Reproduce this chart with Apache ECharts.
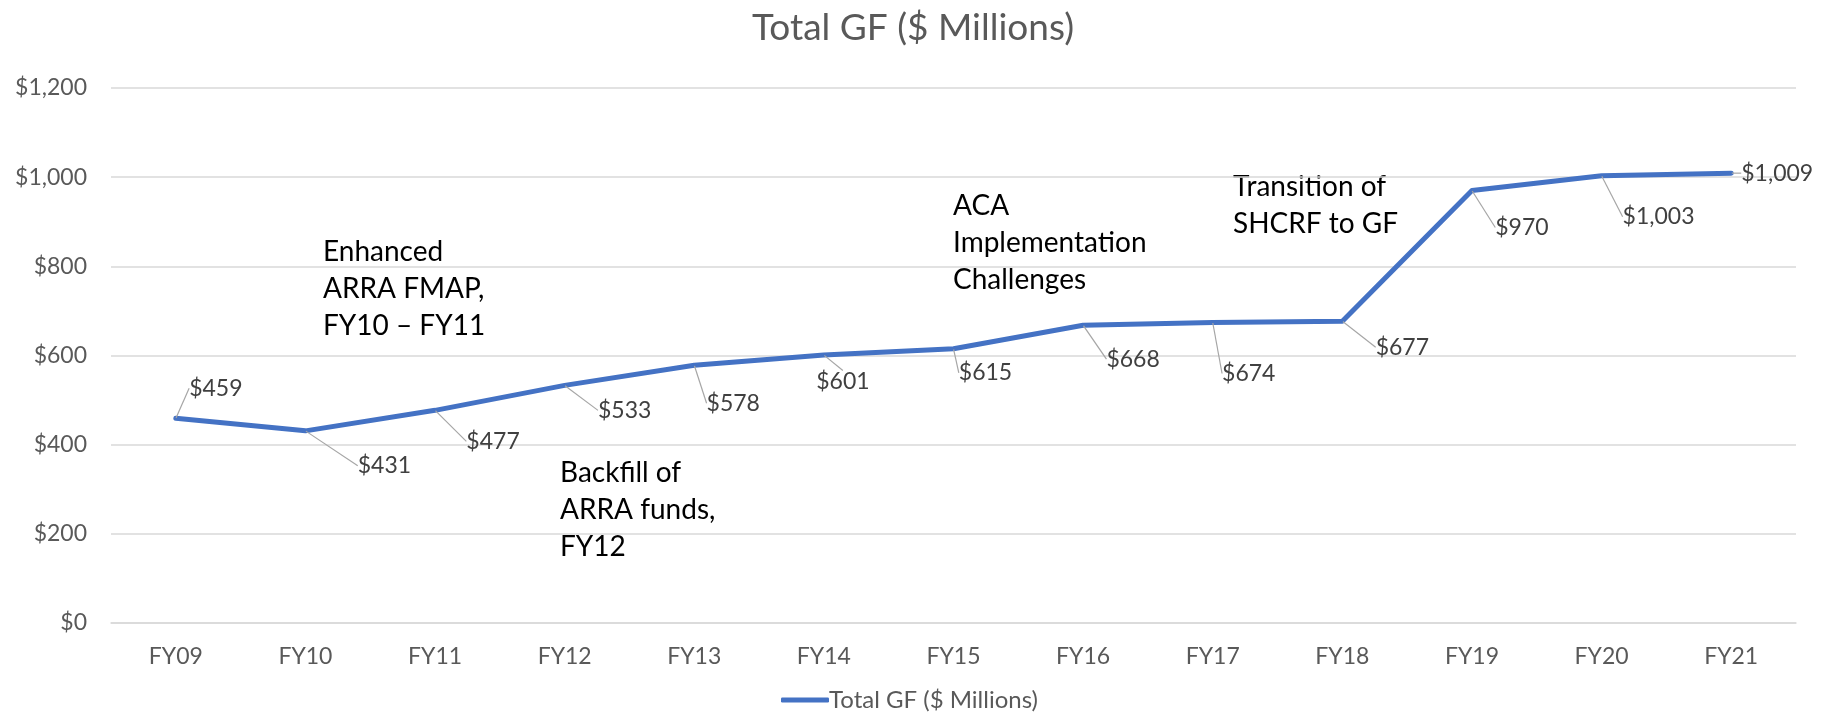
<!DOCTYPE html>
<html>
<head>
<meta charset="utf-8">
<script src="https://cdn.jsdelivr.net/npm/echarts@6/dist/echarts.min.js"></script>
<style>
  html, body { margin: 0; padding: 0; background: #fff; }
  #container { width: 1830px; height: 714px; }
</style>
</head>
<body>
<div id="container"></div>
<script>
(function () {
    'use strict';

    var years = ['FY09', 'FY10', 'FY11', 'FY12', 'FY13', 'FY14', 'FY15', 'FY16', 'FY17', 'FY18', 'FY19', 'FY20', 'FY21'];
    var totalGF = [459, 431, 477, 533, 578, 601, 615, 668, 674, 677, 970, 1003, 1009];
    var yTicks = [0, 200, 400, 600, 800, 1000, 1200];

    // where each data label sits relative to its point (like the Excel chart)
    var labelShift = [
        [40, -30], [79, 35], [58, 31], [60, 25], [39, 38], [19, 27], [32, 24],
        [50, 34], [36, 51], [60, 26], [50, 37], [57, 41], [46, 0]
    ];

    var notes = [
        { text: 'Enhanced\nARRA FMAP,\nFY10 \u2013 FY11', x: 323, y: 233 },
        { text: 'Backfill of\nARRA funds,\nFY12', x: 560, y: 454 },
        { text: 'ACA\nImplementation\nChallenges', x: 953, y: 187 },
        { text: 'Transition of\nSHCRF to GF', x: 1233, y: 168 }
    ];

    var font = 'Lato, "Open Sans", sans-serif';

    function money(v) {
        return '$' + v.toLocaleString('en-US');
    }

    var dom = document.getElementById('container');
    var myChart = echarts.init(dom, null, { renderer: 'canvas' });

    var option = {
        animation: false,
        textStyle: { fontFamily: font },
        title: {
            text: 'Total GF ($ Millions)',
            left: 908,
            textAlign: 'center',
            top: 5,
            textStyle: { fontFamily: font, fontSize: 37, fontWeight: 'normal', color: '#595959' }
        },
        legend: {
            bottom: -3,
            left: 776,
            icon: 'roundRect',
            itemWidth: 48,
            itemHeight: 5,
            textStyle: { fontFamily: font, fontSize: 24, color: '#595959', padding: [0, 0, 0, -5] },
            data: ['Total GF ($ Millions)']
        },
        grid: {
            left: 111,
            right: 34,
            top: 88,
            bottom: 91
        },
        xAxis: {
            type: 'category',
            data: years,
            boundaryGap: true,
            axisLine: { show: true, lineStyle: { color: '#D9D9D9', width: 1.5 } },
            axisTick: { show: false },
            axisLabel: { fontFamily: font, fontSize: 23, color: '#595959', margin: 22 }
        },
        yAxis: {
            type: 'value',
            min: yTicks[0],
            max: yTicks[yTicks.length - 1],
            interval: 200,
            axisLine: { show: false },
            axisTick: { show: false },
            splitLine: { lineStyle: { color: '#D9D9D9', width: 1.5 } },
            axisLabel: {
                fontFamily: font, fontSize: 23, color: '#595959', margin: 24,
                formatter: function (v) { return money(v); }
            }
        },
        series: [{
            name: 'Total GF ($ Millions)',
            type: 'line',
            data: totalGF,
            symbol: 'circle',
            symbolSize: 1,
            showSymbol: true,
            itemStyle: { color: '#4472C4' },
            lineStyle: { color: '#4472C4', width: 5, cap: 'round', join: 'round' },
            emphasis: { disabled: true },
            label: {
                show: true,
                position: 'inside',
                fontFamily: font,
                fontSize: 23,
                color: '#404040',
                formatter: function (p) { return money(p.value); }
            },
            labelLine: {
                show: true,
                lineStyle: { color: '#A6A6A6', width: 1.2 }
            },
            labelLayout: function (params) {
                var s = labelShift[params.dataIndex];
                return { dx: s[0], dy: s[1] };
            }
        }],
        graphic: notes.map(function (n) {
            return {
                type: 'text',
                left: n.x,
                top: n.y,
                silent: true,
                style: {
                    text: n.text,
                    font: '28px ' + font,
                    fill: '#000000',
                    lineHeight: 37
                }
            };
        })
    };

    myChart.setOption(option);
})();
</script>
</body>
</html>
